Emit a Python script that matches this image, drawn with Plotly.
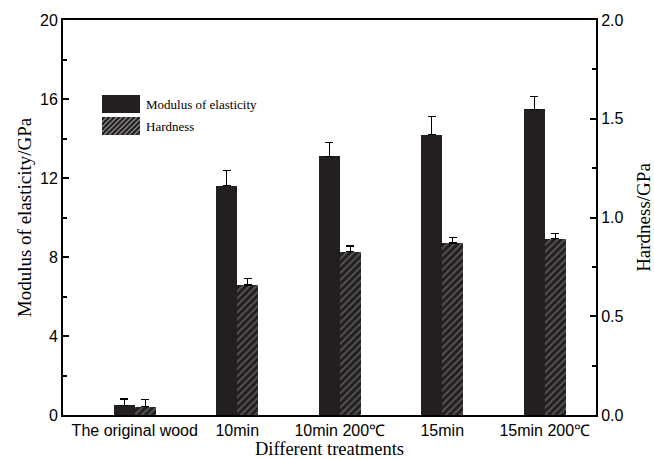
import plotly.graph_objects as go

categories = ["The original wood", "10min", "10min 200\u2103", "15min", "15min 200\u2103"]
moe = [0.49, 11.62, 13.1, 14.2, 15.47]
moe_err = [0.32, 0.75, 0.7, 0.9, 0.66]
hardness = [0.043, 0.658, 0.827, 0.871, 0.892]
hardness_err = [0.035, 0.032, 0.028, 0.027, 0.026]
legend_names = ["Modulus of elasticity", "Hardness"]

DARK = "#231f20"
x = list(range(len(categories)))
bw = 0.205

fig = go.Figure()
fig.add_trace(go.Bar(
    x=x, y=moe, name=legend_names[0], width=bw, offset=-bw,
    marker=dict(color=DARK, line=dict(width=0)),
    error_y=dict(type="data", array=moe_err, arrayminus=[0]*5, symmetric=False,
                 color="black", thickness=1.3, width=4),
    showlegend=False, yaxis="y"))
fig.add_trace(go.Bar(
    x=x, y=hardness, name=legend_names[1], width=bw, offset=0,
    marker=dict(color=DARK, line=dict(width=0),
                pattern=dict(shape="/", bgcolor=DARK, fgcolor="#8c8c8c", size=5, solidity=0.35)),
    error_y=dict(type="data", array=hardness_err, arrayminus=[0]*5, symmetric=False,
                 color="black", thickness=1.3, width=4),
    showlegend=False, yaxis="y2"))

# plot area in pixels
L, R, T, B = 63, 596, 20, 415
def px(xp):
    return (xp - L) / (R - L)
def py(yp):
    return (B - yp) / (B - T)

shapes = []
bx0, bx1 = 102, 140
shapes.append(dict(type="rect", xref="paper", yref="paper",
                   x0=px(bx0), x1=px(bx1), y0=py(113), y1=py(95),
                   fillcolor=DARK, line=dict(width=0)))
hy0, hy1 = 117, 135
shapes.append(dict(type="rect", xref="paper", yref="paper",
                   x0=px(bx0), x1=px(bx1), y0=py(hy1), y1=py(hy0),
                   fillcolor=DARK, line=dict(width=0)))
h = hy1 - hy0
s = bx0 - h
while s < bx1:
    xa, ya = s, hy1
    xb, yb = s + h, hy0
    if xa < bx0:
        ya = hy1 - (bx0 - xa)
        xa = bx0
    if xb > bx1:
        yb = hy0 + (xb - bx1)
        xb = bx1
    if xb > xa:
        shapes.append(dict(type="line", xref="paper", yref="paper",
                           x0=px(xa), y0=py(ya), x1=px(xb), y1=py(yb),
                           line=dict(color="#8c8c8c", width=1.2)))
    s += 5

annotations = [
    dict(text=legend_names[0], xref="paper", yref="paper", x=px(144), y=py(104),
         xanchor="left", yanchor="middle", showarrow=False,
         font=dict(family="Liberation Serif", size=13, color="black")),
    dict(text=legend_names[1], xref="paper", yref="paper", x=px(144), y=py(126),
         xanchor="left", yanchor="middle", showarrow=False,
         font=dict(family="Liberation Serif", size=13, color="black")),
]

tick_font = dict(family="Liberation Sans", size=16, color="black")
title_font = dict(family="Liberation Serif", size=18.5, color="black")

fig.update_layout(
    width=654, height=459,
    margin=dict(l=L, r=654 - R, t=T, b=459 - B, autoexpand=False),
    paper_bgcolor="white", plot_bgcolor="white",
    shapes=shapes, annotations=annotations,
    xaxis=dict(range=[-0.70, 4.50], tickvals=x, ticktext=categories, automargin=False,
               showline=True, linecolor="black", linewidth=2, mirror=True,
               ticks="", showgrid=False, zeroline=False, tickfont=tick_font,
               title=dict(text="Different treatments", font=title_font, standoff=6)),
    yaxis=dict(range=[0, 20], tickvals=[0, 4, 8, 12, 16, 20], automargin=False,
               showline=True, linecolor="black", linewidth=2,
               ticks="inside", ticklen=6, tickwidth=2, tickcolor="black",
               minor=dict(ticks="inside", ticklen=4, tickwidth=2, tickcolor="black", dtick=2, tick0=0),
               showgrid=False, zeroline=False, tickfont=tick_font,
               title=dict(text="Modulus of elasticity/GPa",
                          font=dict(family="Liberation Serif", size=19, color="black"), standoff=3)),
    yaxis2=dict(range=[0, 2.0], tickvals=[0, 0.5, 1.0, 1.5, 2.0], automargin=False,
                ticktext=["0.0", "0.5", "1.0", "1.5", "2.0"],
                overlaying="y", side="right",
                showline=True, linecolor="black", linewidth=2,
                ticks="inside", ticklen=6, tickwidth=2, tickcolor="black",
                minor=dict(ticks="inside", ticklen=4, tickwidth=2, tickcolor="black", dtick=0.25, tick0=0),
                showgrid=False, zeroline=False, tickfont=tick_font,
                title=dict(text="Hardness/GPa",
                           font=dict(family="Liberation Serif", size=19, color="black"), standoff=24)),
    bargap=0, showlegend=False,
)

fig.write_html("out.html")
